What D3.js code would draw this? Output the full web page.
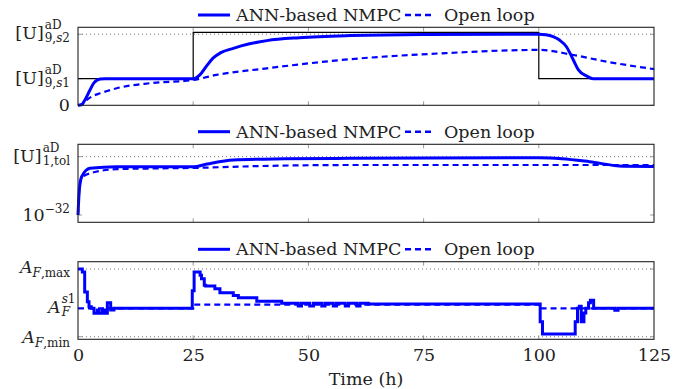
<html>
<head>
	<script src="https://d3js.org/d3.v7.min.js"></script>
	<style>
		body { margin: 0; background: #fff; }
		text { font-family: "DejaVu Serif", serif; fill: #222; }
	</style>
</head>
<body>
	<script>
		// time axis
		var xTicks = [0, 25, 50, 75, 100, 125];

		// top panel: [U]9 (s1 = 1, s2 = 2.67)
		var uSet_t = [0, 25, 100, 125];
		var uSet_v = [1, 2.74, 1, 1];
		var uAnn_t = [0, 0.8, 1.5, 2.6, 3.5, 4.8, 6, 25, 25.5, 26.5, 28, 29.3, 31, 33.7, 37, 41, 48, 59, 75, 100, 101.5, 103.1, 104.5, 106, 107.5, 108.6, 110.4, 111.8, 125];
		var uAnn_v = [0, 0.02, 0.2, 0.575, 0.85, 0.99, 1, 1, 1.02, 1.15, 1.5, 1.77, 1.98, 2.14, 2.3, 2.43, 2.54, 2.62, 2.66, 2.67, 2.65, 2.58, 2.45, 2.2, 1.7, 1.33, 1.1, 1, 1];
		var uOl_t = [0, 1, 1.9, 3, 4.8, 8.4, 15.6, 25, 30, 41, 57, 78.6, 100.3, 107.5, 114.7, 125];
		var uOl_v = [0, 0.05, 0.2, 0.33, 0.45, 0.64, 0.83, 0.95, 1.14, 1.39, 1.7, 1.95, 2.08, 1.89, 1.64, 1.36];

		// middle panel: [U]1 as log10 exponent (tol = -5)
		var tAnn_t = [0, 0.3, 0.8, 2.6, 8.4, 25, 28, 33.7, 45, 59, 100, 105, 111, 118.3, 125];
		var tAnn_e = [-32, -20, -14.3, -10.4, -9.65, -9.7, -8.4, -6.5, -6.0, -5.75, -5.45, -5.9, -7.3, -9.4, -9.5];
		var tOl_t = [0, 0.3, 0.8, 2.6, 8.4, 18, 25, 40, 59, 125];
		var tOl_e = [-32, -20, -14.9, -12.7, -10.8, -10.4, -10.2, -9.3, -8.85, -8.85];

		// bottom panel: A_F (min = 0, max = 1, s1 = 0.42)
		var aAnn_t = [0, 0.94, 1.45, 2.03, 2.39, 2.89, 3.47, 4.2, 4.56, 5.28, 5.79, 6.37, 7.09, 7.8, 24.8, 25.2, 26.5, 26.8, 27.4, 27.7, 29.7, 30.8, 33.7, 34.8, 38.8, 44.2, 47.8, 48.5, 50.3, 51.1, 52.9, 53.6, 55.4, 56.1, 58, 58.7, 60.5, 61.2, 63, 100.3, 100.8, 107.9, 108.4, 108.8, 109.2, 109.8, 110.2, 110.8, 111.2, 111.9, 116.5, 117.2, 125];
		var aAnn_v = [1.0, 0.956, 0.66, 0.517, 0.443, 0.42, 0.346, 0.394, 0.346, 0.394, 0.346, 0.502, 0.394, 0.42, 0.68, 0.956, 0.907, 0.857, 0.76, 0.749, 0.709, 0.65, 0.61, 0.576, 0.523, 0.493, 0.453, 0.493, 0.453, 0.493, 0.453, 0.493, 0.453, 0.493, 0.453, 0.493, 0.453, 0.493, 0.483, 0.222, 0.04, 0.222, 0.42, 0.45, 0.222, 0.35, 0.42, 0.5, 0.54, 0.42, 0.39, 0.42, 0.42];
		var aOl_t = [0, 25, 100, 125];
		var aOl_v = [0.42, 0.475, 0.42, 0.42];

		var legendNames = ["ANN-based NMPC", "Open loop"];

		var w = 686, h = 389;
		var blue = "#0000ff";
		var svg = d3.select("body").append("svg").attr("width", w).attr("height", h);

		var x = d3.scaleLinear().domain([0, 125]).range([78, 654]);

		var panels = [
			{ top: 27.3, bottom: 105.3, y: d3.scaleLinear().domain([0, 2.93]).range([105.3, 27.3]),
			  yTicks: [0, 1, 2.67], dotted: [2.67], legendY: 15 },
			{ top: 144.3, bottom: 222.3, y: d3.scaleLinear().domain([-35.38, 0.74]).range([222.3, 144.3]),
			  yTicks: [-32, -5], dotted: [-5], legendY: 131.7 },
			{ top: 261.7, bottom: 339.3, y: d3.scaleLinear().domain([-0.038, 1.108]).range([339.3, 261.7]),
			  yTicks: [0, 0.42, 1], dotted: [0, 1], legendY: 249.3 }
		];

		function pts(ts, vs) { return ts.map(function(t, i){ return [t, vs[i]]; }); }

		panels.forEach(function(p){
			var g = svg.append("g");
			// dotted reference lines
			g.selectAll(".dot").data(p.dotted).enter().append("line")
				.attr("x1", x(0)).attr("x2", x(125))
				.attr("y1", function(d){ return p.y(d); }).attr("y2", function(d){ return p.y(d); })
				.attr("stroke", "#666").attr("stroke-width", 0.9).attr("stroke-dasharray", "1,3");
			// inside ticks (x)
			g.selectAll(".xt").data(xTicks.slice(1, 5)).enter().append("path")
				.attr("d", function(d){ return "M" + x(d) + "," + p.top + "v4M" + x(d) + "," + p.bottom + "v-4"; })
				.attr("stroke", "#999").attr("stroke-width", 1);
			// inside ticks (y)
			g.selectAll(".yt").data(p.yTicks).enter().append("path")
				.attr("d", function(d){ return "M" + x(0) + "," + p.y(d) + "h4M" + x(125) + "," + p.y(d) + "h-4"; })
				.attr("stroke", "#999").attr("stroke-width", 1);

			// legend
			var lg = svg.append("g").attr("transform", "translate(0," + p.legendY + ")");
			lg.append("line").attr("x1", 198).attr("x2", 230).attr("y1", 0).attr("y2", 0)
				.attr("stroke", blue).attr("stroke-width", 3);
			lg.append("text").attr("x", 236).attr("y", 6).attr("font-size", 17.5).text(legendNames[0]);
			lg.append("line").attr("x1", 405).attr("x2", 435).attr("y1", 0).attr("y2", 0)
				.attr("stroke", blue).attr("stroke-width", 2.5).attr("stroke-dasharray", "6,4");
			lg.append("text").attr("x", 444).attr("y", 6).attr("font-size", 17.5).text(legendNames[1]);
		});

		// top panel
		var p0 = panels[0];
		var lineSmooth0 = d3.line().x(function(d){ return x(d[0]); }).y(function(d){ return p0.y(d[1]); }).curve(d3.curveMonotoneX);
		var lineStep0 = d3.line().x(function(d){ return x(d[0]); }).y(function(d){ return p0.y(d[1]); }).curve(d3.curveStepAfter);
		svg.append("path").attr("d", lineStep0(pts(uSet_t, uSet_v))).attr("fill", "none").attr("stroke", "#000").attr("stroke-width", 1.2);
		svg.append("path").attr("d", lineSmooth0(pts(uOl_t, uOl_v))).attr("fill", "none").attr("stroke", blue).attr("stroke-width", 2.2).attr("stroke-dasharray", "6,4");
		svg.append("path").attr("d", lineSmooth0(pts(uAnn_t, uAnn_v))).attr("fill", "none").attr("stroke", blue).attr("stroke-width", 3);

		// middle panel
		var p1 = panels[1];
		var line1 = d3.line().x(function(d){ return x(d[0]); }).y(function(d){ return p1.y(d[1]); }).curve(d3.curveMonotoneX);
		svg.append("path").attr("d", line1(pts(tOl_t, tOl_e))).attr("fill", "none").attr("stroke", blue).attr("stroke-width", 2.2).attr("stroke-dasharray", "6,4");
		svg.append("path").attr("d", line1(pts(tAnn_t, tAnn_e))).attr("fill", "none").attr("stroke", blue).attr("stroke-width", 3);

		// bottom panel
		var p2 = panels[2];
		var line2 = d3.line().x(function(d){ return x(d[0]); }).y(function(d){ return p2.y(d[1]); }).curve(d3.curveStepAfter);
		svg.append("path").attr("d", line2(pts(aOl_t, aOl_v))).attr("fill", "none").attr("stroke", blue).attr("stroke-width", 2.2).attr("stroke-dasharray", "6,4");
		svg.append("path").attr("d", line2(pts(aAnn_t, aAnn_v))).attr("fill", "none").attr("stroke", blue).attr("stroke-width", 3);

		// frames
		panels.forEach(function(p){
			svg.append("rect").attr("x", x(0)).attr("y", p.top).attr("width", x(125) - x(0)).attr("height", p.bottom - p.top)
				.attr("fill", "none").attr("stroke", "#222").attr("stroke-width", 1.1);
		});

		// x axis labels (bottom panel only)
		var xAxis = d3.axisBottom(x).tickValues(xTicks).tickSize(0).tickPadding(9);
		var xa = svg.append("g").attr("transform", "translate(0," + p2.bottom + ")").call(xAxis);
		xa.select(".domain").remove();
		xa.selectAll("text").attr("font-size", 17.5).attr("font-family", "DejaVu Serif").attr("fill", "#222");
		svg.append("text").attr("x", x(62.5)).attr("y", 385).attr("text-anchor", "middle").attr("font-size", 17.5).text("Time (h)");

		// labels with a superscript stacked over a subscript
		function stacked(yc, base, sup, sub, italicBase) {
			var g = svg.append("g");
			var subT = g.append("text").attr("x", 70).attr("y", yc + 8).attr("text-anchor", "end").attr("font-size", 12);
			sub.forEach(function(s){ subT.append("tspan").attr("font-style", s.i ? "italic" : null).text(s.t); });
			var sw = subT.node().getComputedTextLength();
			var supT = g.append("text").attr("x", 70 - sw).attr("y", yc - 5).attr("text-anchor", "start").attr("font-size", 12);
			sup.forEach(function(s){ supT.append("tspan").attr("font-style", s.i ? "italic" : null).text(s.t); });
			g.append("text").attr("x", 70 - sw - 1).attr("y", yc + 5).attr("text-anchor", "end").attr("font-size", 17.5)
				.attr("font-style", italicBase ? "italic" : null).text(base);
			return g;
		}

		stacked(p0.y(2.67), "[U]", [{t: "aD"}], [{t: "9,"}, {t: "s", i: true}, {t: "2"}], false);
		stacked(p0.y(1), "[U]", [{t: "aD"}], [{t: "9,"}, {t: "s", i: true}, {t: "1"}], false);
		svg.append("text").attr("x", 70).attr("y", p0.y(0) + 6).attr("text-anchor", "end").attr("font-size", 17.5).text("0");

		stacked(p1.y(-5), "[U]", [{t: "aD"}], [{t: "1,tol"}], false);
		var tl = svg.append("text").attr("x", 70).attr("y", p1.y(-32) + 6).attr("text-anchor", "end").attr("font-size", 17.5);
		tl.append("tspan").text("10");
		tl.append("tspan").attr("font-size", 12).attr("dy", -8).text("\u221232");

		var am = svg.append("text").attr("x", 70).attr("y", p2.y(1) + 4).attr("text-anchor", "end").attr("font-size", 17.5);
		am.append("tspan").attr("font-style", "italic").text("A");
		var amS = am.append("tspan").attr("font-size", 12).attr("dy", 4);
		amS.append("tspan").attr("font-style", "italic").text("F");
		amS.append("tspan").text(",max");

		stacked(p2.y(0.42), "A", [{t: "s", i: true}, {t: "1"}], [{t: "F", i: true}], true);

		var an = svg.append("text").attr("x", 70).attr("y", p2.y(0) + 6).attr("text-anchor", "end").attr("font-size", 17.5);
		an.append("tspan").attr("font-style", "italic").text("A");
		var anS = an.append("tspan").attr("font-size", 12).attr("dy", 4);
		anS.append("tspan").attr("font-style", "italic").text("F");
		anS.append("tspan").text(",min");
	</script>
</body>
</html>
